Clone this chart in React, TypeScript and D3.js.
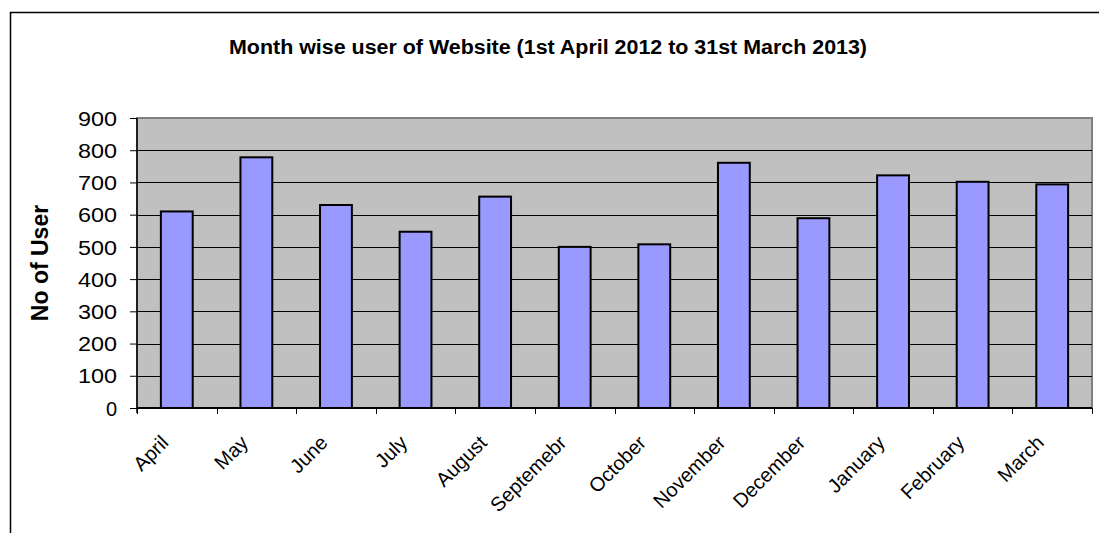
import React, { useEffect, useRef } from 'react';
import * as d3 from 'd3';

const months = ['April', 'May', 'June', 'July', 'August', 'Septemebr', 'October', 'November', 'December', 'January', 'February', 'March'];
const users = [610, 778, 630, 547, 656, 500, 508, 761, 589, 722, 702, 694];
const yTicks = [0, 100, 200, 300, 400, 500, 600, 700, 800, 900];
const title = 'Month wise user of Website (1st April 2012 to 31st March 2013)';
const yTitle = 'No of User';

export default function App() {
  const ref = useRef<SVGSVGElement>(null);

  useEffect(() => {
    if (!ref.current) return;
    const svg = d3.select(ref.current);
    svg.selectAll('*').remove();

    const W = 1099, H = 533;
    const left = 137, right = 1092, top = 118, bottom = 408;
    const font = '"Liberation Sans", Arial, sans-serif';

    // outer chart border (right/bottom run off the picture)
    svg.append('rect')
      .attr('x', 10.5).attr('y', 12.5)
      .attr('width', W + 20).attr('height', H + 20)
      .attr('fill', '#fff').attr('stroke', '#000').attr('stroke-width', 1.5);

    svg.append('text')
      .attr('x', 548).attr('y', 54)
      .attr('text-anchor', 'middle')
      .attr('font-family', font).attr('font-weight', 'bold').attr('font-size', 20)
      .attr('textLength', 638).attr('lengthAdjust', 'spacingAndGlyphs')
      .text(title);

    const x = d3.scaleBand<string>()
      .domain(months)
      .range([left, right])
      .paddingInner(0.6)
      .paddingOuter(0.3);

    const y = d3.scaleLinear().domain([0, 900]).range([bottom, top]);

    // plot area
    svg.append('rect')
      .attr('x', left).attr('y', top)
      .attr('width', right - left).attr('height', bottom - top)
      .attr('fill', '#C0C0C0')
      .attr('stroke', '#808080').attr('stroke-width', 2);

    // gridlines
    svg.append('g')
      .selectAll('line')
      .data(yTicks.filter(t => t > 0 && t < 900))
      .enter().append('line')
      .attr('x1', left).attr('x2', right)
      .attr('y1', d => Math.round(y(d)) + 0.5).attr('y2', d => Math.round(y(d)) + 0.5)
      .attr('stroke', '#000').attr('stroke-width', 1);

    // bars
    svg.append('g')
      .selectAll('rect')
      .data(users)
      .enter().append('rect')
      .attr('x', (d, i) => x(months[i])!)
      .attr('y', d => y(d))
      .attr('width', x.bandwidth())
      .attr('height', d => bottom - y(d))
      .attr('fill', '#9999FF')
      .attr('stroke', '#000').attr('stroke-width', 2);

    // y axis
    const yAxis = svg.append('g')
      .attr('transform', `translate(${left},0)`)
      .call(d3.axisLeft(y).tickValues(yTicks).tickSize(7).tickPadding(0).tickFormat(d3.format('d')));
    yAxis.select('.domain').remove();
    yAxis.selectAll('.tick line').attr('stroke', '#000');
    yAxis.selectAll('.tick text')
      .attr('x', -20).attr('dy', '0.36em')
      .attr('font-family', font).attr('font-size', 20).attr('fill', '#000');
    yAxis.selectAll('.tick text')
      .filter((d: any) => d >= 100)
      .attr('textLength', 39).attr('lengthAdjust', 'spacingAndGlyphs');
    svg.append('line')
      .attr('x1', left).attr('x2', left)
      .attr('y1', top).attr('y2', bottom + 5)
      .attr('stroke', '#000').attr('stroke-width', 1.5);

    // x axis
    const xTickPos = months.map(m => x(m)! - x.step() * x.paddingInner() / 2).concat([right]);
    svg.append('line')
      .attr('x1', left).attr('x2', right)
      .attr('y1', bottom).attr('y2', bottom)
      .attr('stroke', '#000').attr('stroke-width', 2);
    svg.append('g')
      .selectAll('line')
      .data(xTickPos)
      .enter().append('line')
      .attr('x1', d => Math.round(d) + 0.5).attr('x2', d => Math.round(d) + 0.5)
      .attr('y1', bottom).attr('y2', bottom + 6)
      .attr('stroke', '#000');

    svg.append('g')
      .selectAll('text')
      .data(months)
      .enter().append('text')
      .attr('transform', d => `translate(${x(d)! + x.bandwidth() / 2 - 12},${bottom + 31}) rotate(-45)`)
      .attr('text-anchor', 'end')
      .attr('dy', '0.35em')
      .attr('font-family', font).attr('font-size', 20).attr('fill', '#000')
      .text(d => d);

    // y axis title
    svg.append('text')
      .attr('transform', `translate(48,263) rotate(-90)`)
      .attr('text-anchor', 'middle')
      .attr('font-family', font).attr('font-weight', 'bold').attr('font-size', 23)
      .text(yTitle);
  }, []);

  return (
    <svg ref={ref} width={1099} height={533}
      style={{ position: 'absolute', left: 0, top: 0, background: '#fff' }} />
  );
}
